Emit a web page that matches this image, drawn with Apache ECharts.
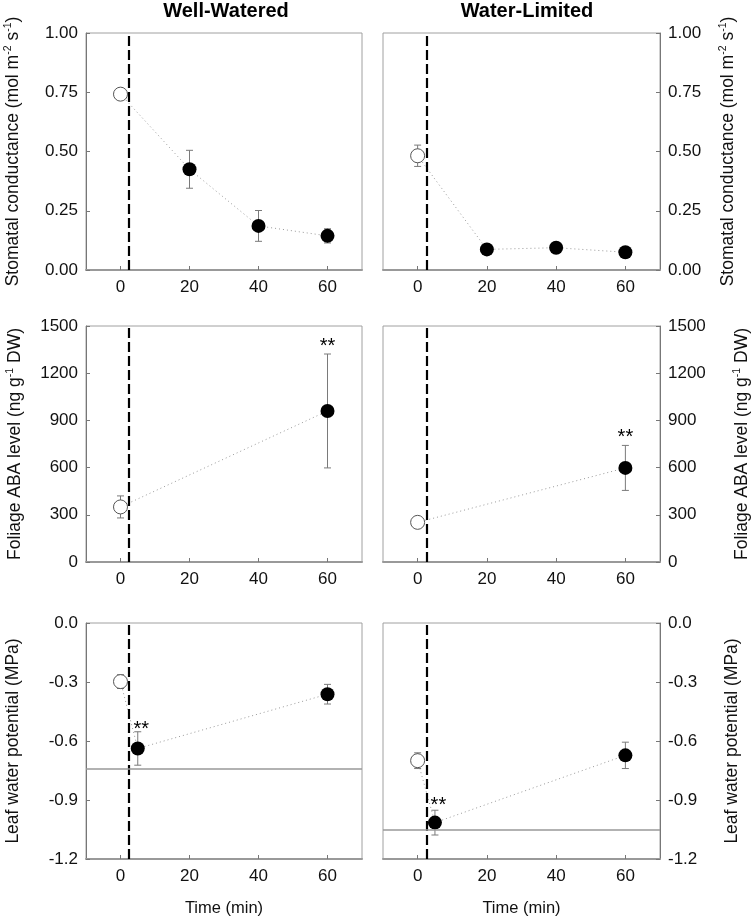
<!DOCTYPE html>
<html><head><meta charset="utf-8">
<script src="https://cdn.jsdelivr.net/npm/echarts@6/dist/echarts.min.js"></script>
<style>html,body{margin:0;padding:0;background:#fff}#c{width:755px;height:920px}</style>
</head><body><div id="c"></div>
<script>
// ---- data ----
const panelTitles = ['Well-Watered', 'Water-Limited'];
const xTickValues = [0, 20, 40, 60];
const treatmentTime = 2.5;

const gsTime = [0, 20, 40, 60];
const gsWW = [0.742, 0.425, 0.186, 0.144];
const gsWWErr = [0.022, 0.08, 0.065, 0.03];
const gsWL = [0.482, 0.087, 0.094, 0.075];
const gsWLErr = [0.045, 0.01, 0.01, 0.01];

const abaTime = [0, 60];
const abaWW = [350, 960];
const abaWWErr = [70, 362];
const abaWL = [252, 598];
const abaWLErr = [15, 143];

const lwpTime = [0, 5, 60];
const lwpWW = [-0.298, -0.638, -0.362];
const lwpWWErr = [0.035, 0.085, 0.05];
const lwpWL = [-0.70, -1.015, -0.673];
const lwpWLErr = [0.04, 0.063, 0.067];
const lwpThresholdWW = -0.74;
const lwpThresholdWL = -1.05;

// significance marks: [time, value]
const starsABAWW = [[60, 1402]];
const starsABAWL = [[60, 821]];
const starsLWPWW = [[6, -0.514]];
const starsLWPWL = [[6, -0.902]];

const gsTicks = {min: 0, max: 1, interval: 0.25, digits: 2};
const abaTicks = {min: 0, max: 1500, interval: 300, digits: 0};
const lwpTicks = {min: -1.2, max: 0, interval: 0.3, digits: 1};

const gsName = '{n|Stomatal conductance (mol m}{s|-2}{n| s}{s|-1}{n|)}';
const abaName = '{n|Foliage ABA level (ng g}{s|-1}{n| DW)}';
const lwpName = '{n|Leaf water potential (MPa)}';
const timeName = 'Time (min)';

// ---- layout ----
const FONT = "'Liberation Sans', Arial, sans-serif";
const gridLeft = [86, 383];
const gridWidth = [276, 277];
const gridTop = [33, 326, 623];
const gridHeight = [237, 236, 236];
const nameGaps = [[62, 58], [60, 72], [62, 62]];

const panels = [
  {t: gsTime, v: gsWW, e: gsWWErr, ax: gsTicks, name: gsName, stars: [], thr: null},
  {t: gsTime, v: gsWL, e: gsWLErr, ax: gsTicks, name: gsName, stars: [], thr: null},
  {t: abaTime, v: abaWW, e: abaWWErr, ax: abaTicks, name: abaName, stars: starsABAWW, thr: null},
  {t: abaTime, v: abaWL, e: abaWLErr, ax: abaTicks, name: abaName, stars: starsABAWL, thr: null},
  {t: lwpTime, v: lwpWW, e: lwpWWErr, ax: lwpTicks, name: lwpName, stars: starsLWPWW, thr: lwpThresholdWW},
  {t: lwpTime, v: lwpWL, e: lwpWLErr, ax: lwpTicks, name: lwpName, stars: starsLWPWL, thr: lwpThresholdWL}
];

const grids = [], xAxes = [], yAxes = [], series = [];
panels.forEach((p, i) => {
  const r = Math.floor(i / 2), c = i % 2;
  grids.push({left: gridLeft[c], top: gridTop[r], width: gridWidth[c], height: gridHeight[r],
    show: true, borderColor: '#a0a0a0', borderWidth: 1, containLabel: false});
  xAxes.push({
    type: 'value', gridIndex: i, min: -10, max: 70, position: 'bottom',
    name: r === 2 ? timeName : '', nameLocation: 'middle', nameGap: 41,
    nameTextStyle: {fontFamily: FONT, fontSize: 16.5, color: '#111'},
    axisLine: {show: true, onZero: false, lineStyle: {color: '#999', width: 2}},
    axisTick: {show: true, inside: true, length: 4, lineStyle: {color: '#777'}, customValues: xTickValues},
    axisLabel: {show: true, margin: 9, fontFamily: FONT, fontSize: 17, color: '#111', customValues: xTickValues},
    splitLine: {show: false}
  });
  yAxes.push({
    type: 'value', gridIndex: i, position: c === 0 ? 'left' : 'right',
    min: p.ax.min, max: p.ax.max, interval: p.ax.interval,
    name: p.name, nameLocation: 'middle', nameRotate: 90,
    nameGap: nameGaps[r][c],
    nameTextStyle: {fontFamily: FONT, color: '#111',
      rich: {n: {fontFamily: FONT, fontSize: 17.5, lineHeight: 21, color: '#111'},
             s: {fontFamily: FONT, fontSize: 10.5, lineHeight: 10, verticalAlign: 'top', color: '#111'}}},
    axisLine: {show: true, onZero: false, lineStyle: {color: '#777', width: 1}},
    axisTick: {show: true, inside: true, length: 4, lineStyle: {color: '#777'}},
    axisLabel: {margin: 8, fontFamily: FONT, fontSize: 17, color: '#111',
      formatter: (v) => v.toFixed(p.ax.digits)},
    splitLine: {show: false}
  });

  const pts = p.t.map((t, k) => [t, p.v[k]]);
  const markData = [{xAxis: treatmentTime, lineStyle: {color: '#000', width: 2.2, type: [10, 4]}}];
  if (p.thr !== null) markData.push({yAxis: p.thr, lineStyle: {color: '#999', width: 1.5, type: 'solid'}});
  series.push({
    type: 'line', xAxisIndex: i, yAxisIndex: i, data: pts, showSymbol: false, symbol: 'none',
    lineStyle: {color: '#9a9a9a', width: 1, type: [1, 3]}, z: 2, silent: true,
    markLine: {silent: true, symbol: ['none', 'none'], label: {show: false}, data: markData, animation: false}
  });
  series.push({
    type: 'custom', xAxisIndex: i, yAxisIndex: i, z: 3, silent: true,
    data: p.t.map((t, k) => [t, p.v[k], p.e[k]]),
    renderItem: (params, api) => {
      const x = api.value(0), y = api.value(1), e = api.value(2);
      const hi = api.coord([x, y + e]), lo = api.coord([x, y - e]);
      const cap = 3.5;
      const st = {stroke: '#7a7a7a', lineWidth: 1};
      return {type: 'group', children: [
        {type: 'line', shape: {x1: hi[0], y1: hi[1], x2: lo[0], y2: lo[1]}, style: st},
        {type: 'line', shape: {x1: hi[0] - cap, y1: hi[1], x2: hi[0] + cap, y2: hi[1]}, style: st},
        {type: 'line', shape: {x1: lo[0] - cap, y1: lo[1], x2: lo[0] + cap, y2: lo[1]}, style: st}
      ]};
    }
  });
  series.push({
    type: 'scatter', xAxisIndex: i, yAxisIndex: i, z: 4, silent: true, symbolSize: 14,
    itemStyle: {opacity: 1},
    data: pts.map((d, k) => k === 0
      ? {value: d, itemStyle: {color: '#fff', borderColor: '#555', borderWidth: 1, opacity: 1}}
      : {value: d, itemStyle: {color: '#000', borderColor: '#000', borderWidth: 0, opacity: 1}})
  });
  if (p.stars.length) {
    series.push({
      type: 'custom', xAxisIndex: i, yAxisIndex: i, z: 5, silent: true, data: p.stars,
      renderItem: (params, api) => {
        const pt = api.coord([api.value(0), api.value(1)]);
        return {type: 'text', x: pt[0], y: pt[1] + 5,
          style: {text: '**', fill: '#000', font: '20px ' + FONT, align: 'center', verticalAlign: 'middle'}};
      }
    });
  }
});

const chart = echarts.init(document.getElementById('c'), null, {renderer: 'canvas'});
chart.setOption({
  animation: false,
  backgroundColor: '#fff',
  title: [
    {text: panelTitles[0], left: 226, top: 1, textAlign: 'center', padding: 0,
      textStyle: {fontFamily: FONT, fontSize: 20, fontWeight: 'bold', color: '#000'}},
    {text: panelTitles[1], left: 527, top: 1, textAlign: 'center', padding: 0,
      textStyle: {fontFamily: FONT, fontSize: 20, fontWeight: 'bold', color: '#000'}}
  ],
  grid: grids, xAxis: xAxes, yAxis: yAxes, series: series
});
</script></body></html>
